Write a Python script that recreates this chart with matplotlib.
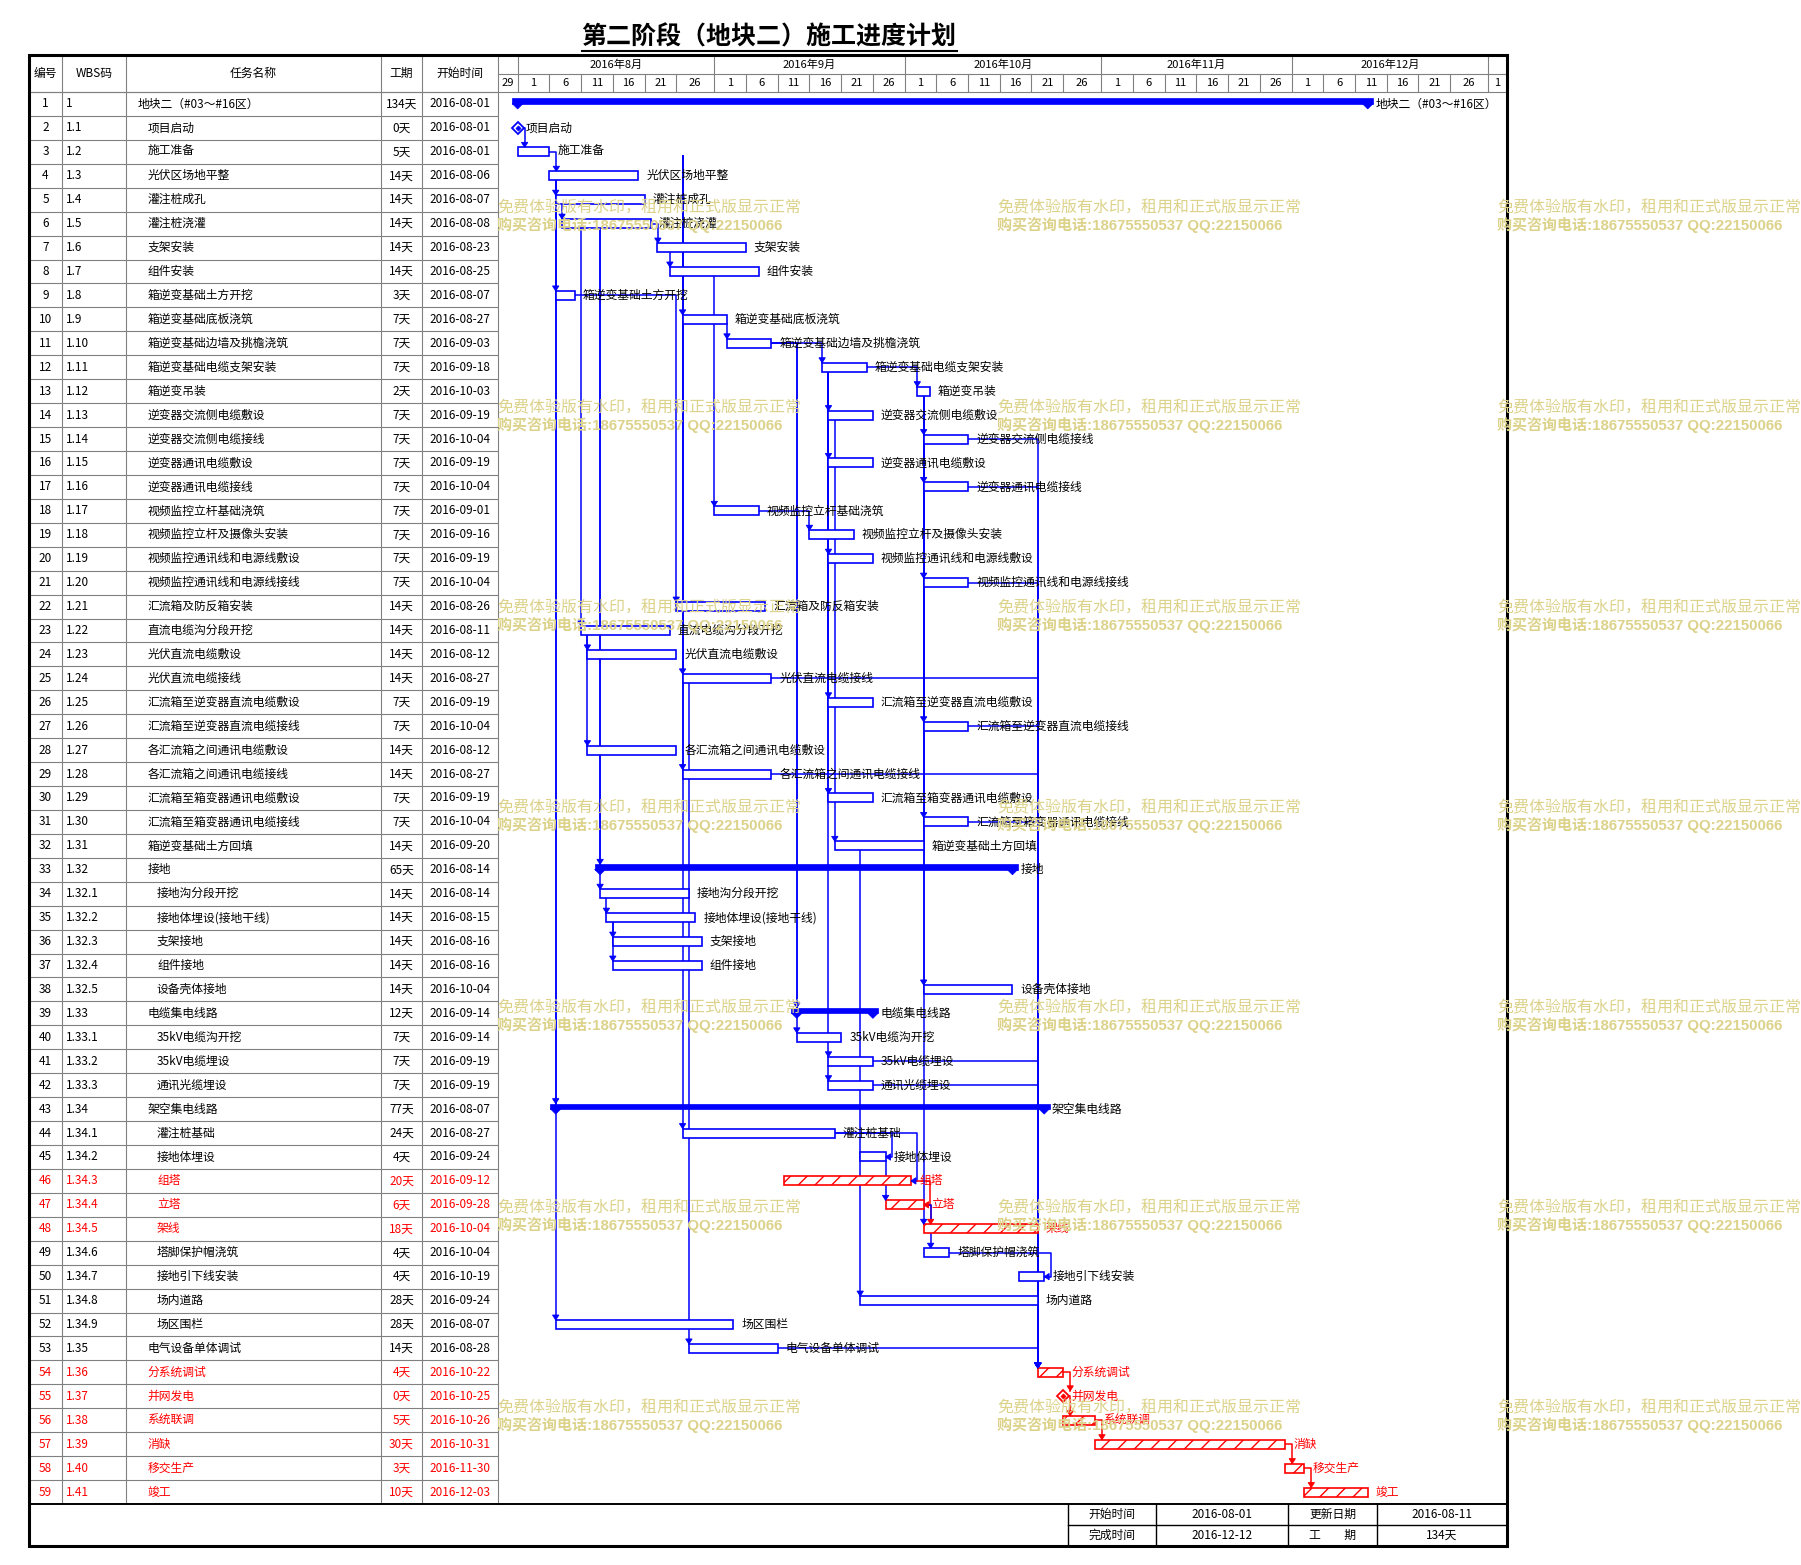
import datetime as dt
import matplotlib
matplotlib.use('Agg')
import matplotlib.pyplot as plt
import matplotlib.dates as mdates
from matplotlib.patches import Polygon, Rectangle

plt.rcParams['font.family'] = ['Noto Sans CJK SC', 'DejaVu Sans']
plt.rcParams['hatch.linewidth'] = 1.0

# ---------------- data ----------------
title = '第二阶段（地块二）施工进度计划'
col_heads = ['编号', 'WBS码', '任务名称', '工期', '开始时间']

wbs = ['1', '1.1', '1.2', '1.3', '1.4', '1.5', '1.6', '1.7', '1.8', '1.9', '1.10',
       '1.11', '1.12', '1.13', '1.14', '1.15', '1.16', '1.17', '1.18', '1.19', '1.20',
       '1.21', '1.22', '1.23', '1.24', '1.25', '1.26', '1.27', '1.28', '1.29', '1.30',
       '1.31', '1.32', '1.32.1', '1.32.2', '1.32.3', '1.32.4', '1.32.5', '1.33',
       '1.33.1', '1.33.2', '1.33.3', '1.34', '1.34.1', '1.34.2', '1.34.3', '1.34.4',
       '1.34.5', '1.34.6', '1.34.7', '1.34.8', '1.34.9', '1.35', '1.36', '1.37',
       '1.38', '1.39', '1.40', '1.41']

names = ['地块二（#03～#16区）', '项目启动', '施工准备', '光伏区场地平整', '灌注桩成孔',
         '灌注桩浇灌', '支架安装', '组件安装', '箱逆变基础土方开挖', '箱逆变基础底板浇筑',
         '箱逆变基础边墙及挑檐浇筑', '箱逆变基础电缆支架安装', '箱逆变吊装',
         '逆变器交流侧电缆敷设', '逆变器交流侧电缆接线', '逆变器通讯电缆敷设',
         '逆变器通讯电缆接线', '视频监控立杆基础浇筑', '视频监控立杆及摄像头安装',
         '视频监控通讯线和电源线敷设', '视频监控通讯线和电源线接线', '汇流箱及防反箱安装',
         '直流电缆沟分段开挖', '光伏直流电缆敷设', '光伏直流电缆接线',
         '汇流箱至逆变器直流电缆敷设', '汇流箱至逆变器直流电缆接线',
         '各汇流箱之间通讯电缆敷设', '各汇流箱之间通讯电缆接线',
         '汇流箱至箱变器通讯电缆敷设', '汇流箱至箱变器通讯电缆接线', '箱逆变基础土方回填',
         '接地', '接地沟分段开挖', '接地体埋设(接地干线)', '支架接地', '组件接地',
         '设备壳体接地', '电缆集电线路', '35kV电缆沟开挖', '35kV电缆埋设', '通讯光缆埋设',
         '架空集电线路', '灌注桩基础', '接地体埋设', '组塔', '立塔', '架线',
         '塔脚保护帽浇筑', '接地引下线安装', '场内道路', '场区围栏', '电气设备单体调试',
         '分系统调试', '并网发电', '系统联调', '消缺', '移交生产', '竣工']

durations = [134, 0, 5, 14, 14, 14, 14, 14, 3, 7, 7, 7, 2, 7, 7, 7, 7, 7, 7, 7, 7,
             14, 14, 14, 14, 7, 7, 14, 14, 7, 7, 14, 65, 14, 14, 14, 14, 14, 12, 7, 7,
             7, 77, 24, 4, 20, 6, 18, 4, 4, 28, 28, 14, 4, 0, 5, 30, 3, 10]

starts = ['2016-08-01', '2016-08-01', '2016-08-01', '2016-08-06', '2016-08-07',
          '2016-08-08', '2016-08-23', '2016-08-25', '2016-08-07', '2016-08-27',
          '2016-09-03', '2016-09-18', '2016-10-03', '2016-09-19', '2016-10-04',
          '2016-09-19', '2016-10-04', '2016-09-01', '2016-09-16', '2016-09-19',
          '2016-10-04', '2016-08-26', '2016-08-11', '2016-08-12', '2016-08-27',
          '2016-09-19', '2016-10-04', '2016-08-12', '2016-08-27', '2016-09-19',
          '2016-10-04', '2016-09-20', '2016-08-14', '2016-08-14', '2016-08-15',
          '2016-08-16', '2016-08-16', '2016-10-04', '2016-09-14', '2016-09-14',
          '2016-09-19', '2016-09-19', '2016-08-07', '2016-08-27', '2016-09-24',
          '2016-09-12', '2016-09-28', '2016-10-04', '2016-10-04', '2016-10-19',
          '2016-09-24', '2016-08-07', '2016-08-28', '2016-10-22', '2016-10-25',
          '2016-10-26', '2016-10-31', '2016-11-30', '2016-12-03']

summary_rows = [1, 33, 39, 43]
critical_rows = [46, 47, 48, 54, 55, 56, 57, 58, 59]

# (predecessor, successor, link type)
links = [(2, 3, 'FS'), (3, 4, 'FS'), (4, 5, 'SS'), (5, 6, 'SS'), (6, 7, 'FS'),
         (7, 8, 'SS'), (4, 9, 'SS'), (3, 10, 'SS'), (10, 11, 'SS'), (11, 12, 'FS'),
         (12, 13, 'FS'), (12, 14, 'SS'), (13, 15, 'SS'), (12, 16, 'SS'), (13, 17, 'SS'),
         (8, 18, 'SS'), (18, 19, 'FS'), (12, 20, 'SS'), (13, 21, 'SS'), (9, 22, 'FS'),
         (6, 23, 'SS'), (23, 24, 'SS'), (3, 25, 'SS'), (12, 26, 'SS'), (13, 27, 'SS'),
         (23, 28, 'SS'), (3, 29, 'SS'), (12, 30, 'SS'), (13, 31, 'SS'), (14, 32, 'SS'),
         (6, 33, 'SS'), (6, 34, 'SS'), (34, 35, 'SS'), (35, 36, 'SS'), (35, 37, 'SS'),
         (13, 38, 'SS'), (11, 39, 'FS'), (11, 40, 'FS'), (12, 41, 'SS'), (41, 42, 'SS'),
         (4, 43, 'SS'), (3, 44, 'SS'), (44, 45, 'FF'), (44, 46, 'FF'), (45, 47, 'SS'),
         (46, 47, 'FF'), (13, 48, 'SS'), (47, 48, 'FS'), (47, 49, 'FS'), (49, 50, 'FF'),
         (32, 51, 'SS'), (4, 52, 'SS'), (25, 53, 'SS'),
         (15, 54, 'FS'), (17, 54, 'FS'), (21, 54, 'FS'), (25, 54, 'FS'), (27, 54, 'FS'),
         (29, 54, 'FS'), (31, 54, 'FS'), (41, 54, 'FS'), (42, 54, 'FS'), (53, 54, 'FS'),
         (54, 55, 'FS'), (55, 56, 'FS'), (56, 57, 'FS'), (57, 58, 'FS'), (58, 59, 'FS')]

months = ['2016年8月', '2016年9月', '2016年10月', '2016年11月', '2016年12月']
tick_days = [1, 6, 11, 16, 21, 26]
footer = [['开始时间', '2016-08-01', '更新日期', '2016-08-11'],
          ['完成时间', '2016-12-12', '工　　期', '134天']]
watermark = ['免费体验版有水印，租用和正式版显示正常', '购买咨询电话:18675550537 QQ:22150066']

# ---------------- layout ----------------
W, H = 1801, 1565
L, R = 29, 1507
TOP, HEAD, BODY_END, BOT = 55, 92, 1504, 1546
SPLIT = 498
COLS = [29, 62, 126, 381, 422, 498]
N = len(names)
ROW_PX = (BODY_END - HEAD) / N
PX_DAY = 6.344
BLUE, RED, GREY = '#0000ff', '#ff0000', '#808080'
FS = 8.5


def frac(l, t, r, b):
    return [l / W, 1 - b / H, (r - l) / W, (b - t) / H]


def dx(px):
    return px / PX_DAY


def dy(px):
    return px / ROW_PX


fig = plt.figure(figsize=(W / 100, H / 100), dpi=100)
ax_t = fig.add_axes(frac(L, TOP, SPLIT, BODY_END))
ax_h = fig.add_axes(frac(SPLIT, TOP, R, HEAD))
ax_g = fig.add_axes(frac(SPLIT, HEAD, R, BODY_END), sharex=ax_h)
ax_o = fig.add_axes([0, 0, 1, 1])
for a in (ax_t, ax_h, ax_g, ax_o):
    a.set_axis_off()

T0 = mdates.date2num(dt.datetime(2016, 7, 29))
ax_g.set_xlim(T0 - dx(0.6), T0 + dx(R - SPLIT - 0.6))
ax_g.set_ylim(N + 0.5, 0.5)
ax_h.set_ylim(2, 0)
ax_o.set_xlim(0, W)
ax_o.set_ylim(H, 0)
head_rows = (HEAD - TOP) / ROW_PX
ax_t.set_xlim(L, SPLIT)
ax_t.set_ylim(N + 0.5, 0.5 - head_rows)

rows = list(range(1, N + 1))
sx = {i: mdates.date2num(dt.datetime.strptime(starts[i - 1], '%Y-%m-%d')) for i in rows}
ex = {i: sx[i] + durations[i - 1] for i in rows}
# milestones sit at the finish of their predecessor
for i in rows:
    if durations[i - 1] == 0:
        preds = [p for p, q, k in links if q == i and k == 'FS']
        if preds:
            sx[i] = ex[i] = max(ex[p] for p in preds)


def color_of(i):
    return RED if i in critical_rows else BLUE


def half(i):
    if i in summary_rows:
        return 5.5, 5.0
    if durations[i - 1] == 0:
        return 5.5, 5.5
    return 4.5, 4.5


# ---------------- table ----------------
for y in [r + 0.5 for r in range(0, N + 1)]:
    ax_t.plot([L, SPLIT], [y, y], color=GREY, lw=0.8)
for x in COLS[1:-1]:
    ax_t.plot([x, x], [0.5 - head_rows, N + 0.5], color=GREY, lw=0.8)
hy = 0.5 - head_rows / 2
for k, h in enumerate(col_heads):
    ax_t.text((COLS[k] + COLS[k + 1]) / 2, hy, h, ha='center', va='center', fontsize=FS)
for i in rows:
    c = 'red' if i in critical_rows else 'black'
    lvl = wbs[i - 1].count('.')
    ax_t.text((COLS[0] + COLS[1]) / 2, i, str(i), ha='center', va='center', fontsize=FS, color=c)
    ax_t.text(COLS[1] + 4, i, wbs[i - 1], ha='left', va='center', fontsize=FS, color=c)
    ax_t.text(COLS[2] + 12 + 9.5 * lvl, i, names[i - 1], ha='left', va='center', fontsize=FS, color=c)
    ax_t.text((COLS[3] + COLS[4]) / 2, i, f'{durations[i - 1]}天', ha='center', va='center', fontsize=FS, color=c)
    ax_t.text((COLS[4] + COLS[5]) / 2, i, starts[i - 1], ha='center', va='center', fontsize=FS, color=c)

# ---------------- timeline header ----------------
xr = ax_g.get_xlim()[1]
ticks = [T0] + [mdates.date2num(dt.datetime(2016, m, d)) for m in range(8, 13) for d in tick_days] \
    + [mdates.date2num(dt.datetime(2017, 1, 1))]
bounds = ticks + [xr]
for k, t in enumerate(ticks):
    if k > 0:
        ax_h.plot([t, t], [1, 2], color=GREY, lw=0.8)
    ax_h.text((bounds[k] + bounds[k + 1]) / 2, 1.5, str(mdates.num2date(t).day),
              ha='center', va='center', fontsize=8)
mb = [mdates.date2num(dt.datetime(2016, m, 1)) for m in range(8, 13)] + \
     [mdates.date2num(dt.datetime(2017, 1, 1))]
for t in mb:
    ax_h.plot([t, t], [0, 1], color=GREY, lw=0.8)
for k, m in enumerate(months):
    ax_h.text((mb[k] + mb[k + 1]) / 2, 0.5, m, ha='center', va='center', fontsize=8)
ax_h.plot([ax_g.get_xlim()[0], xr], [1, 1], color=GREY, lw=0.8)


# ---------------- links ----------------
def arrow_down(x, y, col):
    ax_g.add_patch(Polygon([(x, y), (x - dx(3.2), y - dy(5)), (x + dx(3.2), y - dy(5))],
                           closed=True, fc=col, ec=col, lw=0.6, zorder=6))


def arrow_left(x, y, col):
    ax_g.add_patch(Polygon([(x, y), (x + dx(5), y - dy(3.2)), (x + dx(5), y + dy(3.2))],
                           closed=True, fc=col, ec=col, lw=0.6, zorder=6))


for p, q, kind in links:
    col = RED if (p in critical_rows and q in critical_rows) else BLUE
    top_q = q - dy(half(q)[0])
    if kind == 'FS':
        xv = max(sx[q], ex[p] + dx(7))
        ax_g.plot([ex[p], xv, xv], [p, p, top_q], color=col, lw=1.1, zorder=2)
        arrow_down(xv, top_q, col)
    elif kind == 'SS':
        ax_g.plot([sx[q], sx[q]], [p + dy(half(p)[1]), top_q], color=col, lw=1.1, zorder=2)
        arrow_down(sx[q], top_q, col)
    else:
        xf = ex[q] + dx(6.5)
        ax_g.plot([ex[p], xf, xf, ex[q]], [p, p, q, q], color=col, lw=1.1, zorder=2)
        arrow_left(ex[q], q, col)

# ---------------- bars ----------------
for i in rows:
    col = color_of(i)
    d = durations[i - 1]
    if i in summary_rows:
        ax_g.add_patch(Rectangle((sx[i] - dx(5.5), i - dy(5.5)), d + dx(11), dy(5.5),
                                 fc=BLUE, ec=BLUE, lw=0.5, zorder=3))
        for xx in (sx[i], ex[i]):
            ax_g.add_patch(Polygon([(xx - dx(5.5), i - dy(0.5)), (xx + dx(5.5), i - dy(0.5)),
                                    (xx, i + dy(5))], closed=True, fc=BLUE, ec=BLUE,
                                   lw=0.5, zorder=3))
        off = 5.6
    elif d == 0:
        ax_g.plot(sx[i], i, marker='D', ms=6.2, mfc='white', mec=col, mew=1.3, zorder=5)
        ax_g.plot(sx[i], i, marker='D', ms=2.6, mfc=col, mec=col, mew=0.5, zorder=5)
        off = 6.0
    else:
        ax_g.barh(i, d, left=sx[i], height=dy(9), color='white', edgecolor=col, lw=1.2,
                  hatch='//' if i in critical_rows else None, zorder=3)
        off = 5.8
    ax_g.annotate(names[i - 1], xy=(ex[i], i), xytext=(off, 0), textcoords='offset points',
                  ha='left', va='center', fontsize=FS,
                  color='red' if i in critical_rows else 'black', zorder=7)

# ---------------- frame, title, footer ----------------
ax_o.plot([SPLIT, SPLIT], [TOP, BODY_END], color=GREY, lw=0.8)
ax_o.plot([L, R], [HEAD, HEAD], color=GREY, lw=0.8)
ax_o.plot([L, R], [BODY_END, BODY_END], color='black', lw=1.4)
ax_o.add_patch(Rectangle((L, TOP), R - L, BOT - TOP, fill=False, ec='black', lw=2.2, zorder=8))

fx = [1068, 1156, 1288, 1377, R]
fy = [BODY_END, 1525, BOT]
for x in fx[:-1]:
    ax_o.plot([x, x], [BODY_END, BOT], color='black', lw=1.0)
ax_o.plot([fx[0], R], [fy[1], fy[1]], color='black', lw=1.0)
for r, line in enumerate(footer):
    for k, s in enumerate(line):
        ax_o.text((fx[k] + fx[k + 1]) / 2, (fy[r] + fy[r + 1]) / 2, s,
                  ha='center', va='center', fontsize=FS)

t = ax_o.text(769, 37, title, ha='center', va='center', fontsize=18, weight='bold')
fig.canvas.draw()
bb = t.get_window_extent()
ax_o.plot([bb.x0, bb.x1], [H - bb.y0 + 2, H - bb.y0 + 2], color='black', lw=1.5)

# ---------------- watermark ----------------
for wx in (497, 997, 1497):
    for k in range(7):
        wy = 208 + 200 * k
        fig.text(wx / W, 1 - wy / H, watermark[0], ha='left', va='center',
                 fontsize=11.5, color='#dcd28a', zorder=10)
        fig.text(wx / W, 1 - (wy + 17) / H, watermark[1], ha='left', va='center',
                 fontsize=10.8, color='#dcd28a', zorder=10,
                 family=['Liberation Sans', 'Noto Sans CJK SC', 'DejaVu Sans'],
                 weight='bold')

fig.savefig('out.png', dpi=100)
